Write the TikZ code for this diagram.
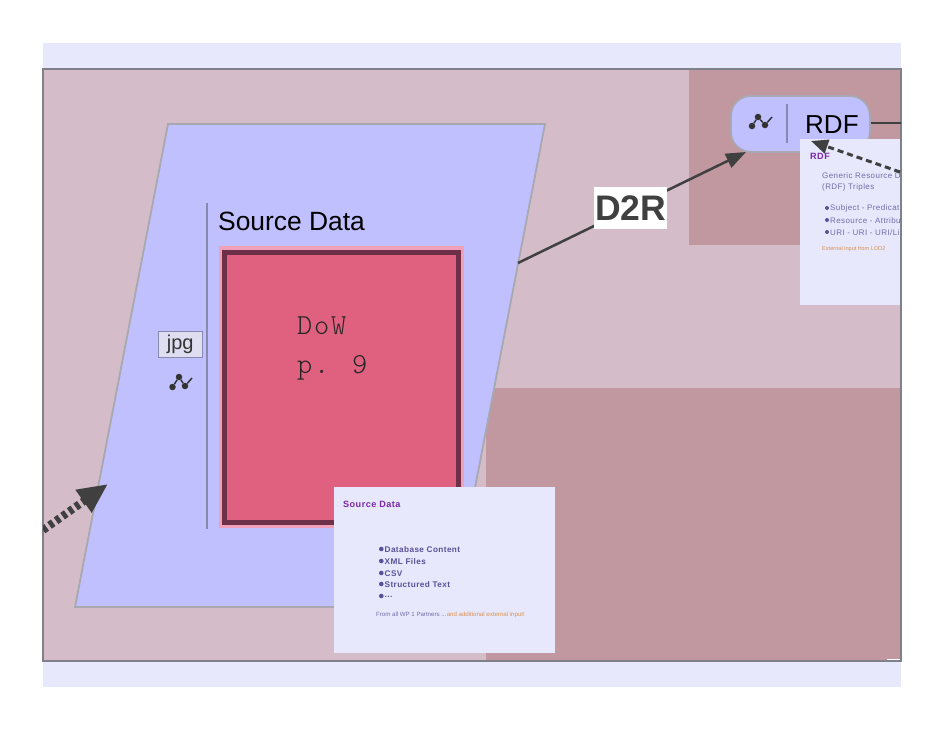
\documentclass[tikz,border=0pt]{standalone}
\usepackage{fontspec}
\setmainfont{Liberation Sans}
\newfontfamily\cardfont[LetterSpace=5]{Liberation Sans}
\newfontfamily\dowfont[LetterSpace=6.2]{Latin Modern Mono Light}
\usetikzlibrary{arrows.meta,positioning}
\newcommand\SrcMore{...}
\definecolor{bandblue}{HTML}{E8E8FC}
\definecolor{framegray}{HTML}{80808A}
\definecolor{mauve}{HTML}{D4BDC9}
\definecolor{mauvedark}{HTML}{C1989F}
\definecolor{periwinkle}{HTML}{C0C0FF}
\definecolor{shapegray}{HTML}{A8A8B0}
\definecolor{rulegray}{HTML}{8888B0}
\definecolor{pinklight}{HTML}{F0A0B8}
\definecolor{pinkdeep}{HTML}{E06080}
\definecolor{wine}{HTML}{6E3048}
\definecolor{arrowgray}{HTML}{404040}
\definecolor{cardpurple}{HTML}{7A28A8}
\definecolor{cardblue}{HTML}{5A5098}
\definecolor{cardorange}{HTML}{D89050}
\tikzset{
  region/.style={
    draw = none,
    fill = mauvedark
  },
  textlabel/.style={
    anchor = west,
    inner sep = 0pt
  },
  cardbox/.style={
    anchor = north west,
    inner sep = 0pt,
    fill = bandblue
  },
  cardtitle/.style={
    textlabel,
    text = cardpurple,
    font = \cardfont\bfseries\fontsize{9.1}{9.1}\selectfont
  },
  carditem/.style={
    textlabel,
    text = cardblue,
    font = \cardfont\bfseries\fontsize{8.2}{8.2}\selectfont
  },
  cardtext/.style={
    textlabel,
    text = cardblue!85,
    font = \cardfont\fontsize{8}{8}\selectfont
  },
  cardsmall/.style={
    textlabel,
    font = \fontsize{6.1}{6.1}\selectfont
  },
  dowtext/.style={
    anchor = base west,
    inner sep = 0pt,
    text = black!85,
    font = \dowfont\fontsize{29}{29}\selectfont
  },
  icondot/.style={
    inner sep = 0pt,
    minimum size = 6.5pt,
    shape = circle,
    fill = black!80
  },
  flow/.style={
    draw = arrowgray,
    line width = 2.5pt,
    -{Triangle[length=20pt,width=15pt]}
  }
}
\begin{document}
\begin{tikzpicture}[x=1pt,y=-1pt]
  \useasboundingbox (0,0) rectangle (942,728);

  \fill[bandblue] (43,43) rectangle (901,687);
  \fill[mauve] (43,69) rectangle (901,661);
  \fill[region] (689,69) rectangle (901,245);
  \fill[region] (486,388) rectangle (901,661);
  \draw[framegray, line width=1.5pt] (43,69) rectangle (901,661);
  \fill[white] (887,658.5) rectangle (900,660.2);

  % source data shape
  \draw[fill=periwinkle, draw=shapegray, line width=1.8pt] (168,124) -- (545,124) -- (452,607) -- (75,607) -- cycle;
  \draw[rulegray, line width=1.5pt] (207,203) -- (207,529);
  \node[textlabel, font=\fontsize{26.4}{26.4}\selectfont] (srctitle) at (218,221) {Source Data};
  \node[anchor=north west, inner sep=0pt, minimum width=245pt, minimum height=282pt, fill=pinklight] (srcouter) at (219,246) {};
  \node[anchor=north west, draw=wine, line width=4.5pt, fill=pinkdeep, minimum width=234pt, minimum height=270pt, inner sep=0pt] (srcinner) at (222,250) {};
  \node[dowtext] (dow) at (297,334.5) {DoW};
  \node[dowtext] (pagenum) at (297,373) {p. 9};

  \node[anchor=north west, draw=rulegray, fill=bandblue!90!gray, minimum width=44pt, minimum height=26pt, inner sep=0pt, font=\fontsize{20}{20}\selectfont, text=black!80] (jpgbox) at (158,331) {jpg};

  % small graph icon
  \node[icondot] (srcdota) at (172.5,387) {};
  \node[icondot] (srcdotb) at (179,377) {};
  \node[icondot] (srcdotc) at (185,386) {};
  \coordinate (srcdotend) at (192,378);
  \draw[black!80, line width=1.5pt] (srcdota) -- (srcdotb) -- (srcdotc) -- (srcdotend);

  % arrow coming in from the left
  \coordinate (inletstart) at (43,530);
  \coordinate (inletend) at (108,484);
  \begin{scope}
    \clip (43,69) rectangle (901,661);
    \draw[arrowgray, line width=8pt, dash pattern=on 4.5pt off 3.5pt, -{Triangle[length=30pt,width=26pt,sep=0pt]}] (inletstart) -- (inletend);
  \end{scope}

  % rdf node
  \node[anchor=north west, draw=shapegray, line width=1.8pt, fill=periwinkle, rounded corners=20pt, minimum width=139pt, minimum height=56pt, inner sep=0pt] (rdfbox) at (730,95) {};
  \draw[rulegray, line width=1.5pt] (787,104) -- (787,143);
  \node[textlabel, font=\fontsize{26}{26}\selectfont] (rdftitle) at (805,125) {RDF};
  \node[icondot] (rdfdota) at (752,126) {};
  \node[icondot] (rdfdotb) at (758,117) {};
  \node[icondot] (rdfdotc) at (765,125) {};
  \coordinate (rdfdotend) at (772,117);
  \draw[black!80, line width=1.5pt] (rdfdota) -- (rdfdotb) -- (rdfdotc) -- (rdfdotend);
  \coordinate (rdfout) at (901,123);
  \draw[arrowgray, line width=2.8pt] (rdfbox.east |- rdfout) -- (rdfout);

  % d2r connector
  \coordinate (d2rstart) at (518,263);
  \coordinate (d2rend) at (746,152);
  \draw[flow] (d2rstart) -- (d2rend);
  \node[anchor=north west, fill=white, minimum width=73pt, minimum height=42pt, inner sep=0pt, text=arrowgray, font=\bfseries\fontsize{35.5}{35.5}\selectfont] (d2r) at (594,187) {D2R};

  % source card
  \node[cardbox, minimum width=221pt, minimum height=166pt] (srccard) at (334,487) {};
  \node[cardtitle] (srccardtitle) at (343,504) {Source Data};
  \foreach \i/\y/\t in {1/549/Database Content,2/561/XML Files,3/573/CSV,4/584/Structured Text,5/596/\SrcMore}{
    \fill[cardblue] (381.3,\y) circle (2.3);
    \node[carditem] (srcitem\i) at (384.5,\y+0.7) {\t};
  }
  \node[cardsmall, text=cardblue!85] (srcnote) at (376,614.5) {From all WP 1 Partners \SrcMore};
  \node[cardsmall, text=cardorange, anchor=base west] (srcnoteb) at (srcnote.base east) {and additional external input!};

  % rdf card
  \node[cardbox, minimum width=100pt, minimum height=166pt] (rdfcard) at (800,139) {};
  \begin{scope}
    \clip (800,139) rectangle (900,305);
    \node[cardtitle] (rdfcardtitle) at (810,156) {RDF};
    \node[cardtext] (rdftexta) at (822,175.7) {Generic Resource D};
    \node[cardtext] (rdftextb) at (822,187.7) {(RDF) Triples};
    \foreach \i/\y/\t in {1/208/Subject - Predicat,2/220/Resource - Attribu,3/232/{URI - URI - URI/Li}}{
      \fill[cardblue] (827,\y) circle (2);
      \node[cardtext] (rdfitem\i) at (830,\y+0.7) {\t};
    }
    \node[cardsmall, text=cardorange, font=\fontsize{5.6}{5.6}\selectfont] (rdfnote) at (822,249) {External input from LOD2};
  \end{scope}

  \coordinate (lodstart) at (900,172);
  \coordinate (lodend) at (811,141);
  \draw[arrowgray, line width=3pt, dash pattern=on 6pt off 4pt, -{Triangle[length=17pt,width=14pt]}] (lodstart) -- (lodend);
\end{tikzpicture}
\end{document}
